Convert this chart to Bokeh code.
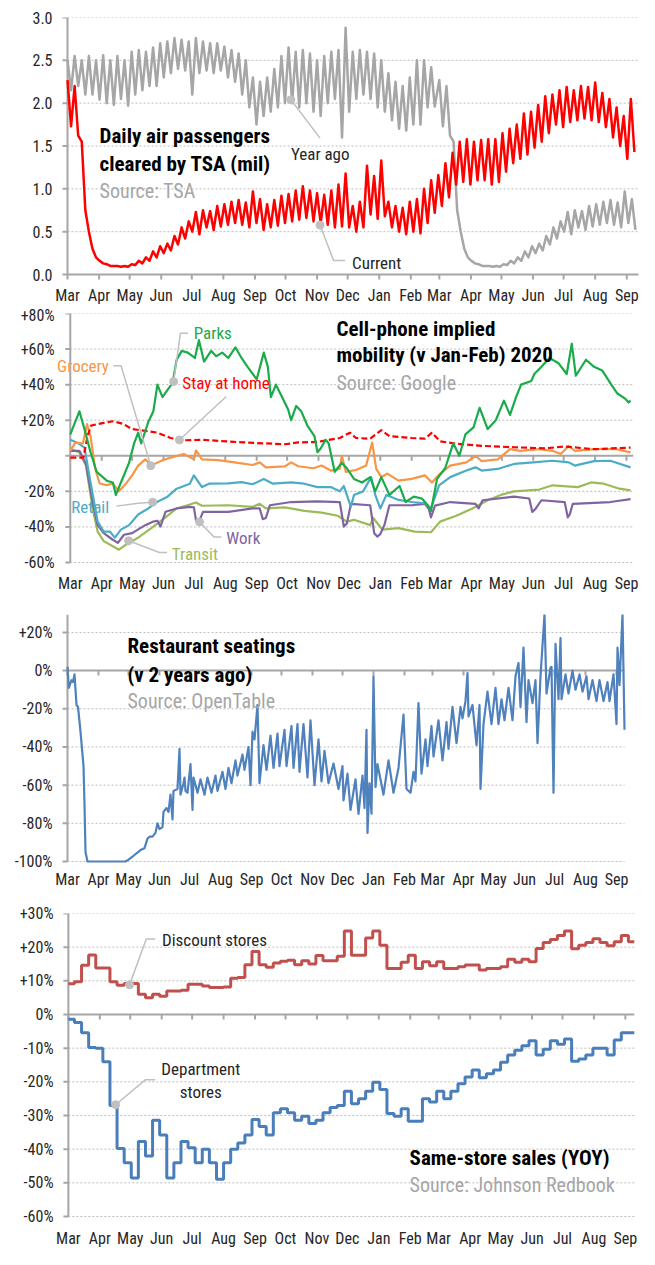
import numpy as np
from bokeh.plotting import figure
from bokeh.models import Range1d, FixedTicker, Label, PrintfTickFormatter
from bokeh.core.properties import value
from bokeh.layouts import column
from bokeh.embed import file_html
from bokeh.resources import INLINE

FONT = "Roboto Condensed, Roboto"
AXIS_C = "#a6a6a6"
GRID_C = "#bdbdbd"
TXT_C = "#262626"
SRC_C = "#a6a6a6"
CALL_C = "#c0c0c0"

# ---------------- shared x axis (days since 1 Mar 2020) ----------------
MONTH_LABELS = ["Mar", "Apr", "May", "Jun", "Jul", "Aug", "Sep", "Oct", "Nov", "Dec",
                "Jan", "Feb", "Mar", "Apr", "May", "Jun", "Jul", "Aug", "Sep"]
MONTH_DAYS = [0, 31, 61, 92, 122, 153, 184, 214, 245, 275, 306, 337, 365, 396, 426,
              457, 487, 518, 549]

# ---------------- TSA (mil), weekly peak / trough ----------------
tsa_cur_hi = [2.27, 2.20, 1.55, 0.50, 0.20, 0.13, 0.10, 0.10, 0.10, 0.12,
              0.16, 0.20, 0.27, 0.33, 0.36, 0.45, 0.55, 0.62, 0.73, 0.75,
              0.74, 0.80, 0.82, 0.85, 0.87, 0.84, 0.97, 0.88, 0.82, 0.87,
              0.92, 0.94, 0.98, 1.03, 0.98, 0.95, 0.93, 0.98, 1.05, 1.18,
              0.80, 0.85, 1.27, 1.15, 1.33, 0.85, 0.80, 0.78, 0.85, 0.88,
              1.00, 1.10, 1.16, 1.30, 1.42, 1.55, 1.58, 1.55, 1.57, 1.58,
              1.58, 1.65, 1.70, 1.75, 1.88, 1.90, 1.98, 2.08, 2.10, 2.15,
              2.19, 2.15, 2.20, 2.19, 2.24, 2.12, 2.05, 1.95, 1.85, 2.05]
tsa_cur_lo = [1.73, 1.62, 0.75, 0.30, 0.16, 0.12, 0.10, 0.09, 0.09, 0.11,
              0.13, 0.16, 0.20, 0.25, 0.28, 0.35, 0.42, 0.50, 0.47, 0.55,
              0.52, 0.56, 0.58, 0.60, 0.58, 0.55, 0.60, 0.52, 0.55, 0.57,
              0.60, 0.62, 0.64, 0.66, 0.62, 0.60, 0.58, 0.55, 0.56, 0.55,
              0.50, 0.55, 0.70, 0.65, 0.68, 0.55, 0.50, 0.47, 0.50, 0.48,
              0.60, 0.72, 0.80, 0.90, 1.05, 1.08, 1.05, 1.10, 1.10, 1.05,
              1.08, 1.20, 1.30, 1.35, 1.40, 1.48, 1.55, 1.65, 1.75, 1.72,
              1.78, 1.80, 1.82, 1.80, 1.78, 1.72, 1.60, 1.50, 1.35, 1.43]
# year-ago values for Mar 2020 - Feb 2021 (i.e. 2019-20 traffic)
tsa_ago_hi = [2.50, 2.55, 2.50, 2.55, 2.50, 2.56, 2.50, 2.55, 2.50, 2.60,
              2.62, 2.60, 2.65, 2.70, 2.72, 2.76, 2.74, 2.72, 2.76, 2.72,
              2.70, 2.70, 2.66, 2.62, 2.58, 2.50, 2.30, 2.25, 2.30, 2.40,
              2.55, 2.65, 2.60, 2.62, 2.58, 2.50, 2.55, 2.60, 2.62, 2.88,
              2.60, 2.62, 2.60, 2.58, 2.50, 2.35, 2.25, 2.20, 2.30, 2.50,
              2.50, 2.42]
tsa_ago_lo = [2.15, 2.20, 2.10, 2.10, 2.04, 2.00, 1.98, 2.05, 1.97, 2.10,
              2.15, 2.20, 2.20, 2.30, 2.35, 2.40, 2.38, 2.10, 2.35, 2.38,
              2.35, 2.38, 2.30, 2.25, 2.10, 1.95, 1.75, 1.85, 1.90, 1.95,
              2.00, 2.00, 1.95, 2.00, 1.90, 1.85, 2.00, 2.05, 1.60, 1.90,
              2.05, 2.10, 2.05, 1.95, 1.90, 1.80, 1.70, 1.68, 1.75, 1.75,
              1.95, 1.96]

# ---------------- Google mobility (% v Jan-Feb 2020) ----------------
parks_d = [0, 9, 14, 20, 26, 36, 42, 45, 50, 58, 63, 67, 70, 77, 82, 86, 91, 96, 101, 105,
           110, 116, 123, 127, 132, 139, 144, 150, 156, 163, 169, 175, 184, 191, 195, 198,
           203, 209, 215, 218, 223, 228, 234, 241, 244, 247, 252, 255, 261, 268, 273, 280,
           288, 296, 301, 307, 315, 325, 331, 339, 347, 353, 356, 362, 370, 378, 384, 390,
           398, 404, 412, 420, 428, 434, 440, 445, 455, 458, 465, 473, 482, 490, 495, 499,
           509, 517, 525, 534, 540, 548, 551, 553]
parks_v = [12, 25, 15, 2, -9, -14, -15, -22, -15, -4, 7, 13, 7, 19, 25, 40, 33, 37, 41, 54,
           59, 58, 55, 65, 53, 59, 56, 58, 55, 61, 55, 50, 43, 58, 50, 33, 40, 33, 26, 20,
           28, 25, 17, 11, 2, 4, 9, 7, -9, -4, -7, -13, -15, -12, -20, -12, -22, -17, -26,
           -23, -24, -28, -31, -13, -7, 7, 0, 12, 16, 27, 15, 20, 31, 23, 33, 40, 42, 46,
           50, 55, 52, 46, 63, 45, 54, 50, 48, 40, 35, 32, 30, 31]
stay_d = [0, 13, 17, 20.5, 33, 42, 52, 61, 74, 86, 99, 112, 130, 162, 190, 212, 225, 244,
          266, 276, 282, 296, 307, 315, 337, 350, 357, 365, 381, 406, 438, 469, 488, 517, 553]
stay_v = [-1, -1, 11, 17, 18.5, 19.4, 18, 15, 14, 13, 10, 8.7, 9, 7.8, 7, 6.5, 7.5, 7.8,
          10, 13, 10, 9.6, 14.4, 11, 10, 9.6, 13, 8.1, 6.8, 5.6, 4.8, 4.2, 5.2, 3.7, 4.6]
grocery_d = [0, 5, 12.5, 16.5, 20, 24.5, 29, 36, 42, 48, 55, 61, 67, 74, 80, 89, 99, 112,
             122, 124, 130, 146, 162, 180, 187, 193, 212, 218, 225, 240, 248, 257, 266, 268,
             272, 282, 292, 298, 302, 307, 313, 324, 337, 350, 357, 365, 375, 391, 400, 406,
             422, 434, 444, 463, 476, 484, 492, 498, 517, 539, 553]
grocery_v = [2.8, 7.4, 7, 17.8, 11, -7, -15.6, -16.5, -15.6, -20, -15.6, -11, -5.5, -2,
             -5.5, -3, -1, 1, -2, 3, -2, -2.4, -3.7, -5.2, -3.7, -6.5, -5.9, -3.7, -5.9, -7,
             -5.5, -8.3, -7.4, 0, -9, -8, -5.5, 7.4, -7.4, -12, -10, -14, -13, -11, -15,
             -10, -5.5, -3.7, 0, -3, -2, 3.7, 2.8, 3.7, 2.8, 1, 5.5, 2.8, 3.7, 3.7, 1.9]
retail_d = [0, 8, 14, 20, 27, 33, 39, 44, 50, 58, 67, 77, 86, 96, 105, 118, 122, 130, 137,
            156, 169, 180, 191, 200, 218, 231, 244, 257, 266, 270, 277, 280, 289, 297, 301,
            306, 312, 324, 337, 350, 356, 364, 375, 391, 400, 406, 422, 438, 457, 476, 492,
            498, 517, 533, 553]
retail_v = [9, 7, 4.6, -15, -37, -42.6, -42.6, -46, -41.5, -39, -33, -29.6, -25.9, -23,
            -18.5, -15.7, -11, -17.6, -15.7, -15.5, -14.8, -16, -13, -15.7, -15, -15.7,
            -17.6, -17.6, -20, -17, -28.7, -22, -20, -12, -22, -29.6, -22, -24.8, -26,
            -26.8, -29.6, -16.6, -12, -8.3, -6.5, -8.3, -7.4, -4.6, -3.7, -2.8, -3.7, -5.5,
            -3, -2.8, -6.5]
transit_d = [0, 9, 15.5, 22, 27, 33, 42, 48, 55, 67, 80, 93, 105, 118, 124, 130, 156, 180,
             187, 193, 212, 231, 248, 264, 273, 280, 296, 299, 308, 324, 340, 356, 365, 381,
             397, 412, 425, 438, 463, 476, 501, 514, 526, 542, 553]
transit_v = [4, 1.8, -5.5, -29.6, -42.6, -48, -50.9, -52.8, -50, -46, -40.7, -35, -29.6,
             -27.4, -26.3, -28.1, -27.8, -28.7, -27, -29.6, -29, -31, -32, -33.7, -37, -36,
             -39, -35, -41.5, -40.7, -42.6, -43, -37, -33.7, -29.6, -25, -22, -20, -19,
             -16.6, -17.6, -15, -15.6, -18.5, -19.4]
work_d = [0, 9, 15.5, 22, 27, 33, 42, 47, 53, 61, 74, 82, 86, 89, 94, 105, 118, 122, 124,
          127, 131, 156, 180, 187, 190, 193, 197, 218, 244, 266, 270, 273, 277, 296, 300,
          303, 306, 310, 315, 337, 350, 354, 356, 360, 375, 400, 403, 407, 438, 453, 456,
          459, 465, 488, 491, 493, 496, 533, 553]
work_v = [2.8, 2.8, -4.6, -26, -39, -43.5, -47.2, -49, -44.4, -43.5, -39, -37, -36.5,
          -39.8, -31.5, -29.6, -28.7, -29, -36, -37, -31.5, -31.5, -29.6, -29.6, -35.6, -35,
          -27.8, -26, -25.6, -26, -39.8, -38, -27, -27.8, -43.5, -45.4, -44, -39, -27.8,
          -27.8, -27, -30, -34.6, -28, -26, -27, -29.6, -25, -23, -24, -31.5, -30, -25, -26,
          -34.6, -33, -27, -26, -24.4]

# ---------------- OpenTable seatings (% v 2 years ago) ----------------
rest_d = [0, 1.3, 4, 5.5, 7, 9, 10.5, 13, 16, 17, 18, 20, 58, 61, 66, 73, 77, 80, 82, 85,
          88, 90, 92, 95, 96, 99, 101, 103, 105, 106, 110, 112, 113, 116, 117, 118, 120, 123,
          125, 126, 130, 133, 137, 140, 144, 148, 150, 155, 158, 161, 164, 168, 170, 175,
          177, 181, 183, 185, 187, 190, 192, 196, 199, 203, 206, 210, 212, 217, 219, 224,
          226, 230, 232, 236, 240, 243, 247, 251, 254, 257, 261, 266, 271, 275, 276, 280,
          283, 288, 291, 295, 297, 299, 300, 302, 304, 306, 308, 310, 316, 321, 326, 331,
          336, 339, 343, 346, 348, 351, 354, 358, 360, 364, 366, 371, 375, 379, 381, 385,
          389, 393, 395, 398, 400, 401, 405, 409, 412, 413, 416, 420, 424, 428, 431, 434,
          437, 441, 445, 448, 451, 453, 456, 459, 461, 465, 468, 470, 473, 477, 479, 483,
          484, 486, 488, 491, 493, 494, 498, 501, 505, 508, 512, 515, 519, 521, 525, 529,
          532, 536, 540, 542, 546, 549, 550, 552, 555, 557]
rest_v = [2, -9, -5, -6, -2, -18, -19, -32, -50, -70, -95, -100, -100, -99, -97, -94, -93,
          -88, -87, -87, -85, -80, -83, -82, -74, -72, -74, -65, -78, -63, -62, -41, -65,
          -59, -56, -63, -64, -49, -73, -56, -64, -57, -65, -56, -64, -55, -63, -53, -62,
          -51, -59, -47, -55, -44, -52, -40, -60, -32, -36, -18, -59, -39, -52, -34, -51,
          -33, -50, -31, -50, -29, -51, -28, -53, -28, -56, -26, -60, -36, -58, -42, -59,
          -48.7, -62, -50, -68, -54, -73, -57, -75, -55, -72, -31, -85, -59, -75, -3, -61,
          -49, -65, -47, -64, -51, -23, -62, -64, -53, -58, -17, -54, -36, -50, -29, -45,
          -26, -47, -27, -41, -19, -38, -19, -25, -16, -1.3, -24, -18, -39, -18, -62, -28,
          -11, -28, -9, -28, -15, -26, -9, -26, -3, 4, -19, 12, -27, -5, -17, -5, -38, -3,
          29.4, -12, 1.5, 2, -64, 14, -15, 17, -15, -2, -12, 0, -10, -2, -11, -3, -15, -5,
          -16, -5, -16, -6, -16, -2, -28, 12, -7.6, 29.4, -31]

# ---------------- Johnson Redbook same-store sales (% YOY), weekly ----------------
discount = [9.1, 9.7, 14.6, 17.7, 13.8, 13.8, 9.7, 8.7, 9.2, 9.2,
            6.0, 5.0, 6.0, 5.4, 7.0, 7.0, 7.2, 9.0, 9.0, 8.5,
            8.0, 8.0, 8.2, 10.8, 11.0, 14.8, 18.7, 14.8, 14.0, 15.3,
            15.8, 16.1, 14.8, 16.0, 15.0, 17.5, 16.0, 16.0, 17.3, 24.8,
            17.6, 17.6, 22.7, 24.8, 20.6, 13.7, 13.7, 15.5, 17.6, 13.7,
            15.7, 14.5, 15.7, 13.7, 13.7, 14.2, 14.7, 14.7, 13.2, 13.7,
            13.7, 14.2, 16.4, 15.5, 16.4, 15.7, 19.6, 21.4, 22.3, 23.5,
            24.8, 19.5, 20.6, 21.4, 22.5, 21.4, 20.4, 21.6, 23.5, 21.6]
department = [-1.4, -2.4, -5.4, -9.8, -10.0, -14.0, -27.0, -39.8, -44.0, -48.6,
              -37.7, -42.0, -31.4, -35.8, -48.6, -44.0, -37.7, -39.6, -44.0, -40.0,
              -44.0, -48.9, -44.0, -40.0, -38.2, -35.8, -31.2, -33.3, -35.8, -29.2,
              -28.0, -29.2, -31.4, -30.2, -32.4, -31.4, -29.2, -27.6, -27.0, -22.8,
              -26.5, -25.0, -22.8, -20.1, -22.3, -29.4, -30.2, -28.0, -31.7, -31.7,
              -25.0, -26.0, -22.8, -25.0, -22.8, -20.6, -18.6, -16.5, -18.8, -17.6,
              -16.5, -14.2, -12.0, -10.6, -9.3, -7.8, -12.0, -10.3, -7.8, -8.8,
              -7.3, -13.9, -13.2, -12.0, -10.0, -10.0, -12.0, -7.6, -5.4, -5.4]


def base_fig(width, height, axis_px, frame_left, label_right, top, px_per_day, y_lo, y_hi,
             yticks, ylabels, px_per_unit, label_px, grid_end, grid_ticks):
    """The frame starts a little left of day 0 so the first month label fits; the
    library y axis supplies the tick labels, its line and ticks are drawn at day 0."""
    x_start = -(axis_px - frame_left) / px_per_day
    x_end = (width - axis_px) / px_per_day
    y_start = y_hi - (height - top) / px_per_unit
    p = figure(width=width, height=height, x_range=Range1d(x_start, x_end),
               y_range=Range1d(y_start, y_hi), x_axis_location=None,
               output_backend="svg", toolbar_location=None, title=None,
               min_border_left=frame_left, min_border_right=0, min_border_top=top,
               min_border_bottom=0)
    p.outline_line_color = None
    p.background_fill_color = "white"
    p.border_fill_color = "white"
    p.grid.visible = False

    ya = p.yaxis[0]
    ya.ticker = FixedTicker(ticks=yticks)
    if ylabels is not None:
        ya.major_label_overrides = dict(zip(yticks, ylabels))
    ya.minor_tick_line_color = None
    ya.axis_line_color = None
    ya.major_tick_line_color = None
    ya.major_tick_out = 0
    ya.major_tick_in = 0
    ya.major_label_standoff = max(frame_left - label_right, 0)
    ya.major_label_text_font = FONT
    ya.major_label_text_font_size = "16px"
    ya.major_label_text_color = TXT_C

    # dotted horizontal grid lines
    ng = len(grid_ticks)
    p.segment(x0=[0] * ng, y0=grid_ticks, x1=[grid_end] * ng, y1=grid_ticks,
              line_color=GRID_C, line_width=1, line_dash="2 2")
    # y axis line and its outward ticks at day 0
    nt = len(yticks)
    ytick = 5.0 / px_per_day
    p.segment(x0=[0], y0=[y_lo], x1=[0], y1=[y_hi], line_color=AXIS_C, line_width=2)
    p.segment(x0=[0] * nt, y0=yticks, x1=[-ytick] * nt, y1=yticks,
              line_color=AXIS_C, line_width=2)
    # zero line (x axis) with month ticks
    p.segment(x0=[0], y0=[0], x1=[grid_end], y1=[0], line_color=AXIS_C, line_width=2)
    n = len(MONTH_DAYS)
    tick = 5.0 / px_per_unit
    p.segment(x0=MONTH_DAYS, y0=[0] * n, x1=MONTH_DAYS, y1=[-tick] * n,
              line_color=AXIS_C, line_width=2)
    # month labels
    y_lab = y_hi - (label_px - top) / px_per_unit
    p.text(x=MONTH_DAYS, y=[y_lab] * n, text=MONTH_LABELS, text_align="center",
           text_baseline="middle", text_font=value(FONT), text_font_size=value("16px"),
           text_color=TXT_C)
    return p


def label(p, x, y, text, size="17px", color=TXT_C, bold=False, align="left"):
    p.add_layout(Label(x=x, y=y, text=text, text_font=FONT, text_font_size=size,
                       text_color=color, text_font_style="bold" if bold else "normal",
                       text_baseline="middle", text_align=align))


def callout(p, xs, ys):
    p.line(xs, ys, line_color=CALL_C, line_width=1.5)
    p.scatter([xs[0]], [ys[0]], size=8, fill_color=CALL_C, line_color=CALL_C)


# ================= Panel 1: TSA =================
p1 = base_fig(639, 305, 67, 54, 52, 17, 1.0187, 0, 3.0,
              [0, 0.5, 1.0, 1.5, 2.0, 2.5, 3.0], None,
              257 / 3.0, 295, 560.5, [0.5, 1.0, 1.5, 2.0, 2.5, 3.0])
p1.yaxis[0].formatter = PrintfTickFormatter(format="%.1f")

cur_x, cur_y = [], []
for k in range(len(tsa_cur_hi)):
    cur_x += [7 * k, 7 * k + 3.5]
    cur_y += [tsa_cur_hi[k], tsa_cur_lo[k]]
ago_x, ago_y = [], []
for k in range(len(tsa_ago_hi)):
    ago_x += [7 * k, 7 * k + 3.5]
    ago_y += [tsa_ago_hi[k], tsa_ago_lo[k]]
# from Mar 2021 the "year ago" series is the 2020 traffic itself
for x, y in zip(cur_x, cur_y):
    if x + 365 <= 558:
        ago_x.append(x + 365)
        ago_y.append(y)

p1.line(ago_x, ago_y, line_color="#a6a6a6", line_width=2.5, line_join="round")
p1.line(cur_x, cur_y, line_color="#ff0000", line_width=2.5, line_join="round")

label(p1, 31.5, 1.615, "Daily air passengers", size="21px", color="black", bold=True)
label(p1, 31.5, 1.292, "cleared by TSA (mil)", size="21px", color="black", bold=True)
label(p1, 31.5, 0.969, "Source: TSA", size="20px", color=SRC_C)
callout(p1, [219.3, 247.9], [2.04, 1.592])
label(p1, 219.3, 1.408, "Year ago")
callout(p1, [247.9, 261.2, 272.6], [0.577, 0.162, 0.162])
label(p1, 279.3, 0.138, "Current")

# ================= Panel 2: mobility =================
p2 = base_fig(639, 293, 62, 46, 47, 8, 1.027, -60, 80,
              [-60, -40, -20, 0, 20, 40, 60, 80],
              ["-60%", "-40%", "-20%", "", "+20%", "+40%", "+60%", "+80%"],
              249 / 140.0, 278, 555.6, [-60, -40, -20, 20, 40, 60, 80])
p2.line(transit_d, transit_v, line_color="#9bbb59", line_width=2.2, line_join="round")
p2.line(work_d, work_v, line_color="#8064a2", line_width=2.2, line_join="round")
p2.line(retail_d, retail_v, line_color="#4bacc6", line_width=2.2, line_join="round")
p2.line(grocery_d, grocery_v, line_color="#f79646", line_width=2.2, line_join="round")
p2.line(stay_d, stay_v, line_color="#ff0000", line_width=2.2, line_dash="6 3")
p2.line(parks_d, parks_v, line_color="#1aab4a", line_width=2.2, line_join="round")

label(p2, 262.7, 71.1, "Cell-phone implied", size="21px", color="black", bold=True)
label(p2, 262.7, 56.7, "mobility (v Jan-Feb) 2020", size="21px", color="black", bold=True)
label(p2, 262.7, 41.1, "Source: Google", size="20px", color=SRC_C)

callout(p2, [102.0, 108.7, 116.2], [41.7, 68.9, 68.9])
label(p2, 121.9, 68.9, "Parks", color="#1aab4a")
callout(p2, [107.7, 154.0], [8.9, 33.3])
label(p2, 110.6, 41.1, "Stay at home", color="#ff0000")
callout(p2, [79.4, 50.1, 42.5], [-5.6, 50.6, 50.6])
label(p2, -13.0, 50.6, "Grocery", color="#f79646")
callout(p2, [81.3, 67.1, 45.4], [-26.1, -26.7, -28.3])
label(p2, 0.9, -28.9, "Retail", color="#4bacc6")
callout(p2, [57.6, 87.9, 95.4], [-47.8, -54.4, -54.4])
label(p2, 100.2, -55.0, "Transit", color="#9bbb59")
callout(p2, [127.6, 141.7, 149.3], [-37.2, -45.6, -45.6])
label(p2, 154.0, -46.1, "Work", color="#8064a2")

# ================= Panel 3: OpenTable =================
p3 = base_fig(639, 292, 67, 54, 52, 16, 1.0, -100, 29.4,
              [-100, -80, -60, -40, -20, 0, 20],
              ["-100%", "-80%", "-60%", "-40%", "-20%", "0%", "+20%"],
              247 / 129.4, 281, 557, [-100, -80, -60, -40, -20, 20])
p3.line(rest_d, rest_v, line_color="#4f81bd", line_width=2.2, line_join="round")
label(p3, 60, 12.7, "Restaurant seatings", size="21px", color="black", bold=True)
label(p3, 60, -2.3, "(v 2 years ago)", size="21px", color="black", bold=True)
label(p3, 60, -15.8, "Source: OpenTable", size="20px", color=SRC_C)

# ================= Panel 4: Redbook =================
p4 = base_fig(639, 359, 62, 48, 47, 23, 1.025, -60, 30,
              [-60, -50, -40, -30, -20, -10, 0, 10, 20, 30],
              ["-60%", "-50%", "-40%", "-30%", "-20%", "-10%", "0%", "+10%", "+20%", "+30%"],
              303 / 90.0, 348, 557.8, [-60, -50, -40, -30, -20, -10, 10, 20, 30])
wk_x = [max(7 * k - 1, 0) for k in range(len(discount))] + [557.8]
p4.step(wk_x, discount + [discount[-1]], mode="after", line_color="#c0504d", line_width=3)
p4.step(wk_x, department + [department[-1]], mode="after", line_color="#4a7ebb", line_width=3)

callout(p4, [60.3, 76.8, 85.5], [8.8, 22.4, 22.4])
label(p4, 92.3, 22.1, "Discount stores")
callout(p4, [46.6, 75.8, 85.5], [-26.8, -19.4, -19.4])
label(p4, 130.5, -16.2, "Department", align="center")
label(p4, 130.5, -22.9, "stores", align="center")
label(p4, 336.3, -42.6, "Same-store sales (YOY)", size="21px", color="black", bold=True)
label(p4, 336.3, -50.6, "Source: Johnson Redbook", size="20px", color=SRC_C)

layout = column(p1, p2, p3, p4, spacing=0)
open("out.html", "w").write(file_html(layout, INLINE))
